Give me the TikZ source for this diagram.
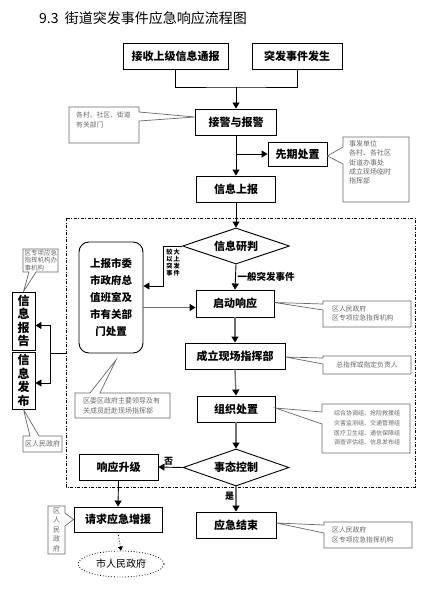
\documentclass[tikz,border=0pt]{standalone}
\usepackage{fontspec}
\newfontfamily\cjk{Noto Sans CJK SC}
\usetikzlibrary{arrows.meta,shapes.geometric}
\definecolor{calgray}{RGB}{105,105,105}
\definecolor{lngray}{RGB}{110,110,110}
\begin{document}
\begin{tikzpicture}[x=1pt,y=-1pt,
  box/.style={draw, line width=0.9pt, inner sep=0pt, align=center, font=\cjk\bfseries\fontsize{11}{13}\selectfont},
  dia/.style={diamond, aspect=3, draw, line width=0.9pt, inner sep=0pt, font=\cjk\bfseries\fontsize{11}{13}\selectfont},
  arr/.style={-{Triangle[length=6pt,width=7pt,color=black]}, line width=0.9pt},
  arrg/.style={arr, draw=lngray, line width=1.3pt},
  cal/.style={draw=calgray, line width=0.7pt, fill=white},
  caltext/.style={text=calgray, inner sep=0pt, font=\cjk\fontsize{6.8}{9.5}\selectfont, align=left},
  lab/.style={inner sep=0pt, font=\cjk\bfseries\fontsize{9}{10}\selectfont}
]
\useasboundingbox (0,0) rectangle (446,591);

% title
\node[anchor=west, inner sep=0pt, font=\cjk\fontsize{14}{16}\selectfont] (title) at (39,18) {9.3\ \ 街道突发事件应急响应流程图};

% dashed frame
\draw[dash pattern=on 3pt off 1.5pt on 1pt off 1.5pt, line width=0.6pt] (66,218) rectangle (415,487);

% main boxes
\node[box, minimum width=105pt, minimum height=26pt] (b1) at (175.5,56) {接收上级信息通报};
\node[box, minimum width=90pt, minimum height=26pt] (b2) at (297,56) {突发事件发生};
\node[box, minimum width=81pt, minimum height=26pt] (b3) at (236,122) {接警与报警};
\node[box, minimum width=59pt, minimum height=24pt] (b4) at (297.5,154) {先期处置};
\node[box, minimum width=79pt, minimum height=26pt] (b5) at (236,189) {信息上报};
\node[dia, minimum width=107pt, minimum height=36pt] (d1) at (236,246) {信息研判};
\node[draw, rounded corners=10pt, line width=0.9pt, minimum width=64pt, minimum height=111pt, inner sep=0pt, align=center, font=\cjk\bfseries\fontsize{10.5}{17}\selectfont] (rb) at (111,297.5) {上报市委\\市政府总\\值班室及\\市有关部\\门处置};
\node[box, minimum width=78pt, minimum height=27pt] (b6) at (235,303.5) {启动响应};
\node[box, minimum width=100pt, minimum height=26pt] (b7) at (235,356) {成立现场指挥部};
\node[box, minimum width=78pt, minimum height=26pt] (b8) at (236,409) {组织处置};
\node[dia, minimum width=106pt, minimum height=37pt] (d2) at (236,467.5) {事态控制};
\node[box, minimum width=79pt, minimum height=26pt] (b9) at (118.5,467) {响应升级};
\node[box, minimum width=88pt, minimum height=25pt] (b10) at (118,519.5) {请求应急增援};
\node[ellipse, draw, dotted, line width=0.8pt, minimum width=86pt, minimum height=26pt, inner sep=0pt, font=\cjk\fontsize{10}{12}\selectfont] (e1) at (121,564) {市人民政府};
\node[box, minimum width=80pt, minimum height=26pt] (b11) at (236,525) {应急结束};
\node[box, minimum width=23pt, minimum height=58pt, font=\cjk\bfseries\fontsize{12}{13.5}\selectfont] (v1) at (23.5,321) {信\\息\\报\\告};
\node[box, minimum width=23pt, minimum height=57pt, font=\cjk\bfseries\fontsize{12}{13.5}\selectfont] (v2) at (23.5,380.5) {信\\息\\发\\布};

% junction coordinates
\coordinate (j) at (236,87);
\coordinate (k) at (163,286);
\coordinate (L) at (66,353);
\coordinate (M) at (50,353);

% connectors
\draw[line width=0.9pt] (b1.south) |- (j) -| (b2.south);
\draw[arr] (j) -- (b3.north);
\draw[arr] (b3.south) -- (b5.north);
\draw[arr] (b3.south |- b4.west) -- (b4.west);
\draw[arr] (b5.south) -- (d1.north);
\draw[arr] (d1.west) -| (k) -- (rb.east |- k);
\draw[arrg] (rb.east |- 0,307.5) -- (b6.west |- 0,307.5);
\draw[arr] (d1.south) -- (b6.north);
\draw[arrg] (b6.south) -- (b7.north);
\draw[arrg] (b7.south) -- (b8.north);
\draw[arrg] (b8.south) -- (d2.north);
\draw[arr] (d2.west) -- (b9.east);
\draw[arr] (b9.south) -- (b10.north);
\draw[-{Triangle[length=4pt,width=5pt]}, line width=0.8pt, dotted] (b10.south) -- (e1.north);
\draw[arrg] (d2.south) -- (b11.north);
\draw[line width=0.9pt] (L) -- (M);
\draw[arr] (M) |- (v1.east |- 0,325.5);
\draw[arr] (M) |- (v2.east |- 0,383);

% labels
\node[lab, anchor=west, font=\cjk\bfseries\fontsize{9.5}{10}\selectfont] (l1) at (237.5,277) {一般突发事件};
\node[lab, align=center, font=\cjk\bfseries\fontsize{6.2}{7}\selectfont] (l2) at (173,263) {较\,大\\以\,上\\突\,发\\事\,件};
\node[lab] (l3) at (168.5,461) {否};
\node[lab] (l4) at (229.5,496) {是};

% callouts
\draw[cal] (69,107) -- (139,107) -- (139,112) -- (b3.west |- 0,117) -- (139,121) -- (139,143) -- (69,143) -- cycle;
\node[caltext, anchor=north west] (t1) at (76,112) {各村、社区、街道\\有关部门};

\draw[cal] (343,137) -- (409,137) -- (409,202) -- (343,202) -- (343,164) -- (b4.east |- 0,156) -- (343,147) -- cycle;
\node[caltext, anchor=north west, font=\cjk\fontsize{7}{9.3}\selectfont] (t2) at (349,140.5) {事发单位\\各村、各社区\\街道办事处\\成立现场临时\\指挥部};

\draw[cal] (323,301) -- (411,301) -- (411,327) -- (323,327) -- (323,310) -- (b6.east |- 0,302.5) -- (323,304) -- cycle;
\node[caltext, anchor=north west] (t3) at (332,305.5) {区人民政府\\区专项应急指挥机构};

\draw[cal] (323,356) -- (411,356) -- (411,374) -- (323,374) -- (323,364) -- (b7.east |- 0,357) -- (323,358) -- cycle;
\node[caltext] (t4) at (367,365) {总指挥或指定负责人};

\draw[cal] (322,404) -- (410,404) -- (410,453) -- (322,453) -- (322,424) -- (b8.east |- 0,408) -- (322,412) -- cycle;
\node[caltext, align=center, font=\cjk\fontsize{6}{9.6}\selectfont] (t5) at (367,428) {综合协调组、抢险救援组\\灾害监测组、交通管理组\\医疗卫生组、通信保障组\\调查评估组、信息发布组};

\draw[cal] (324,522) -- (412,522) -- (412,548) -- (324,548) -- (324,533) -- (b11.east |- 0,523) -- (324,525) -- cycle;
\node[caltext, anchor=north west] (t6) at (332,527) {区人民政府\\区专项应急指挥机构};

\draw[cal] (75,393) -- (90,393) -- (116,360) -- (100,393) -- (170,393) -- (170,418) -- (75,418) -- cycle;
\node[caltext, anchor=north west, font=\cjk\fontsize{7}{9.8}\selectfont] (t7) at (83,397.5) {区委区政府主要领导及有\\关成员赶赴现场指挥部};

\draw[cal] (23,249) -- (58,249) -- (58,272) -- (36,272) -- (v1.north) -- (29,272) -- (23,272) -- cycle;
\node[caltext, anchor=north west, font=\cjk\fontsize{6.5}{7.2}\selectfont] (t8) at (24.5,250) {区专项应急\\指挥机构办\\事机构};

\draw[cal] (23,436) -- (30,436) -- (v2.south) -- (39,436) -- (62,436) -- (62,452) -- (23,452) -- cycle;
\node[caltext, font=\cjk\fontsize{7}{9}\selectfont] (t9) at (42.5,444) {区人民政府};

\draw[cal] (48,506) -- (65,506) -- (65,513) -- (b10.west) -- (65,526) -- (65,554) -- (48,554) -- cycle;
\node[caltext, align=center, font=\cjk\fontsize{7}{9.5}\selectfont] (t10) at (56.5,530) {区\\人\\民\\政\\府};
\end{tikzpicture}
\end{document}
